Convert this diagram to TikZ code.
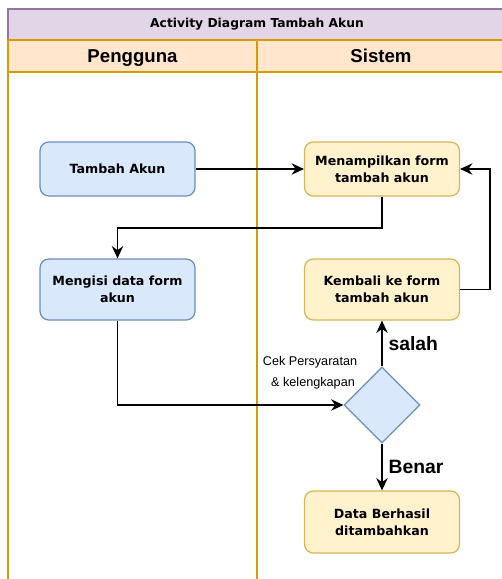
\documentclass[tikz,border=0pt]{standalone}
\usepackage{fontspec}
\setmainfont{DejaVu Sans}
\newfontfamily\headfont{Liberation Sans}
\usetikzlibrary{shapes.geometric,arrows.meta}

\definecolor{titlefill}{HTML}{E1D5E7}
\definecolor{titleline}{HTML}{9673A6}
\definecolor{lanefill}{HTML}{FFE6CC}
\definecolor{laneline}{HTML}{D79B00}
\definecolor{userfill}{HTML}{DAE8FC}
\definecolor{userline}{HTML}{6C8EBF}
\definecolor{sysfill}{HTML}{FFF2CC}
\definecolor{sysline}{HTML}{D6B656}

\tikzset{
  actbox/.style={rounded corners=5pt, line width=0.7pt, minimum width=3.1cm,
    align=center, font=\bfseries\fontsize{7.2}{9.5}\selectfont, inner sep=2pt},
  userbox/.style={actbox, draw=userline, fill=userfill},
  sysbox/.style={actbox, draw=sysline, fill=sysfill},
  flow/.style={line width=0.8pt, -{Stealth[length=7pt,width=6.5pt]}},
  guard/.style={font=\headfont\bfseries\fontsize{11}{13}\selectfont},
  lanehead/.style={anchor=base, font=\headfont\bfseries\fontsize{10.6}{12}\selectfont}
}

\begin{document}
\begin{tikzpicture}[x=0.02cm, y=-0.02cm]
        \useasboundingbox (0,0) rectangle (502,579);
        % swimlanes
        \draw[titleline, fill=titlefill, line width=0.7pt] (8,9) rectangle (520,40);
        \node (title) at (257,24.5) {\bfseries\fontsize{7}{9}\selectfont Activity Diagram Tambah Akun};
        \draw[laneline, fill=lanefill, line width=0.7pt] (8,40) rectangle (520,72);
        \draw[laneline, line width=0.7pt] (8,40) -- (8,585);
        \draw[laneline, line width=0.7pt] (257,40) -- (257,585);
        \node[lanehead] (pengguna) at (132.5,62) {Pengguna};
        \node[lanehead] (sistem) at (381,62) {Sistem};
        % activities
        \node[userbox, minimum height=1.08cm] (tambah) at (117.5,169) {Tambah Akun};
        \node[sysbox, minimum height=1.08cm] (tampil) at (382,169) {Menampilkan form\\tambah akun};
        \node[userbox, minimum height=1.22cm] (isi) at (117.5,289.5) {Mengisi data form\\akun};
        \node[sysbox, minimum height=1.22cm] (kembali) at (382,289.5) {Kembali ke form\\tambah akun};
        \node[sysbox, minimum height=1.24cm] (berhasil) at (382,522) {Data Berhasil\\ditambahkan};
        \node[diamond, draw=userline, fill=userfill, line width=0.7pt, minimum width=1.52cm,
              minimum height=1.52cm, inner sep=0pt] (cek) at (382,405) {};
        \node[font=\headfont\fontsize{7.2}{8}\selectfont] (syarat) at (310,362) {Cek Persyaratan};
        \node[font=\headfont\fontsize{7.2}{8}\selectfont] (lengkap) at (313,383) {\& kelengkapan};
        % flows
        \draw[flow] (tambah) -- (tampil);
        \draw[flow] (tampil.south) |- (117.5,228) -- (isi.north);
        \draw[flow] (isi.south) |- (cek.west);
        \draw[flow] (cek.north) -- (kembali.south) node[guard, midway, right=0pt] {salah};
        \draw[flow] (kembali.east) -| (490,169) -- (tampil.east);
        \draw[flow] (cek.south) -- (berhasil.north) node[guard, midway, right=0pt] {Benar};
    \end{tikzpicture}
\end{document}
